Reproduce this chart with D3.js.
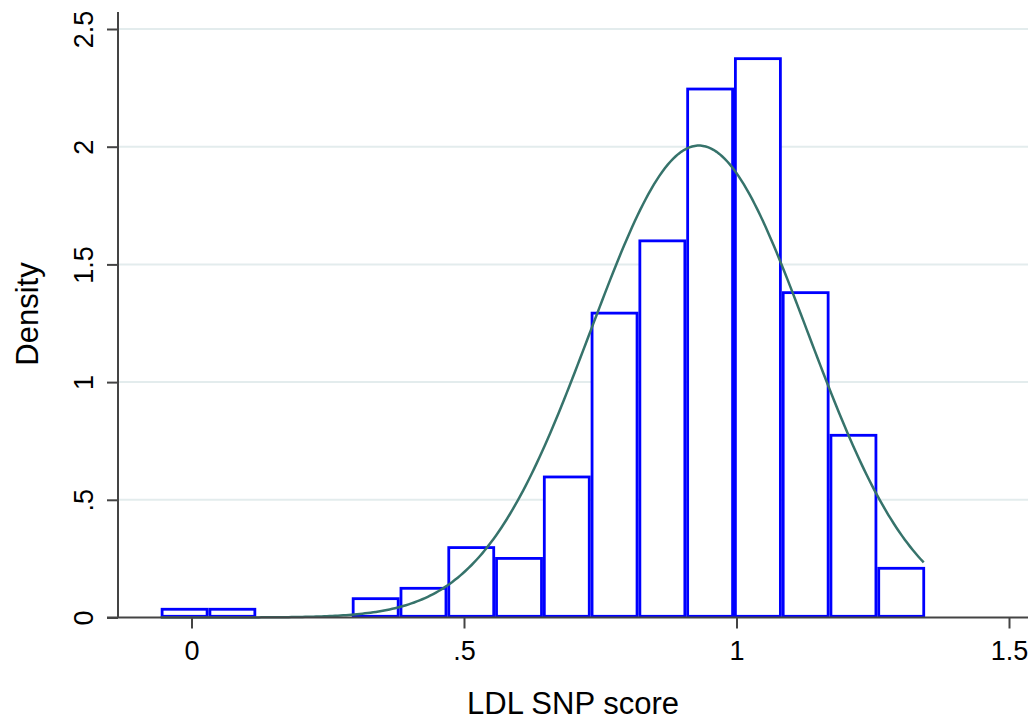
<!DOCTYPE html>
<html>
<head>
<meta charset="utf-8">
<script src="https://cdn.jsdelivr.net/npm/d3@7"></script>
<style>
  body { margin: 0; background: #fff; }
  text { font-family: "Liberation Sans", Arial, sans-serif; fill: #000; }
</style>
</head>
<body>
<div id="chart"></div>
<script>
// histogram bins (edges) and densities
var binEdges = [-0.0565, 0.0312, 0.1188, 0.2065, 0.2941, 0.3818, 0.4695, 0.5571,
  0.6448, 0.7324, 0.8201, 0.9078, 0.9954, 1.0831, 1.1707, 1.2584, 1.3461];
var densities = [0.035, 0.035, 0, 0, 0.080, 0.124, 0.297, 0.251,
  0.597, 1.293, 1.600, 2.245, 2.374, 1.380, 0.774, 0.209];

// normal overlay parameters (mean, sd of the score)
var normalMean = 0.931;
var normalSd = 0.199;

var xTicks = [0, 0.5, 1, 1.5];
var xTickLabels = ["0", ".5", "1", "1.5"];
var yTicks = [0, 0.5, 1, 1.5, 2, 2.5];
var yTickLabels = ["0", ".5", "1", "1.5", "2", "2.5"];

var w = 1033, h = 724;

var svg = d3.select("#chart")
  .append("svg")
  .attr("width", w)
  .attr("height", h);

var x = d3.scaleLinear().domain([0, 1.5]).range([191.5, 1009]);
var y = d3.scaleLinear().domain([0, 2.5]).range([617.5, 29]);

var axisColor = "#444";
var fontFam = "'Liberation Sans', Arial, sans-serif";

// gridlines
svg.append("g")
  .selectAll("line")
  .data(yTicks.slice(1))
  .enter()
  .append("line")
  .attr("x1", 118)
  .attr("x2", 1028)
  .attr("y1", function(d) { return y(d); })
  .attr("y2", function(d) { return y(d); })
  .attr("stroke", "#e3eced")
  .attr("stroke-width", 2);

// bars
var bars = [];
densities.forEach(function(d, i) {
  if (d > 0) bars.push({ x0: binEdges[i], x1: binEdges[i + 1], d: d });
});

svg.append("g")
  .selectAll("rect")
  .data(bars)
  .enter()
  .append("rect")
  .attr("x", function(d) { return x(d.x0) + 1.4; })
  .attr("width", function(d) { return x(d.x1) - x(d.x0) - 2.8; })
  .attr("y", function(d) { return y(d.d); })
  .attr("height", function(d) { return y(0) - y(d.d) - 1.2; })
  .attr("fill", "#fff")
  .attr("stroke", "#0000ff")
  .attr("stroke-width", 2.8);

// normal density curve over the data range
var xs = d3.range(binEdges[0], binEdges[binEdges.length - 1] + 1e-9, 0.005);
var curve = xs.map(function(v) {
  var z = (v - normalMean) / normalSd;
  return [v, Math.exp(-0.5 * z * z) / (normalSd * Math.sqrt(2 * Math.PI))];
});

svg.append("path")
  .datum(curve)
  .attr("fill", "none")
  .attr("stroke", "#36736b")
  .attr("stroke-width", 2.5)
  .attr("d", d3.line()
    .x(function(d) { return x(d[0]); })
    .y(function(d) { return y(d[1]); }));

// axes
var xAxis = svg.append("g")
  .attr("transform", "translate(0," + 617.5 + ")")
  .call(d3.axisBottom(x)
    .tickValues(xTicks)
    .tickSize(11)
    .tickPadding(12)
    .tickFormat(function(d, i) { return xTickLabels[i]; }));

xAxis.select(".domain").remove();
xAxis.append("line")
  .attr("x1", 107).attr("x2", 1028)
  .attr("stroke", axisColor).attr("stroke-width", 2);
xAxis.selectAll(".tick line").attr("stroke", axisColor).attr("stroke-width", 2);
xAxis.selectAll(".tick text")
  .attr("font-size", "27px")
  .attr("fill", "#000")
  .style("font-family", fontFam);

var yAxis = svg.append("g")
  .attr("transform", "translate(118,0)")
  .call(d3.axisLeft(y)
    .tickValues(yTicks)
    .tickSize(11)
    .tickFormat(function(d, i) { return yTickLabels[i]; }));

yAxis.select(".domain").remove();
yAxis.append("line")
  .attr("y1", 12).attr("y2", 618)
  .attr("stroke", axisColor).attr("stroke-width", 2);
yAxis.selectAll(".tick line").attr("stroke", axisColor).attr("stroke-width", 2);
yAxis.selectAll(".tick text")
  .attr("font-size", "27px")
  .attr("fill", "#000")
  .attr("x", 0)
  .attr("dy", 0)
  .attr("text-anchor", "middle")
  .attr("transform", "translate(-25,0) rotate(-90)")
  .style("font-family", fontFam);

// axis titles
svg.append("text")
  .attr("x", 573)
  .attr("y", 714)
  .attr("text-anchor", "middle")
  .attr("font-size", "31px")
  .text("LDL SNP score");

svg.append("text")
  .attr("transform", "translate(38,314) rotate(-90)")
  .attr("text-anchor", "middle")
  .attr("font-size", "31px")
  .text("Density");
</script>
</body>
</html>
